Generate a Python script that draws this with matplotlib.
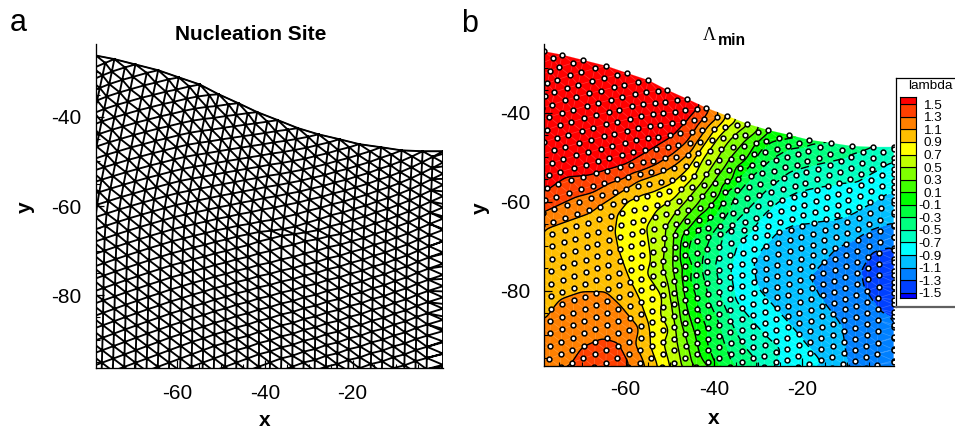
import numpy as np
import matplotlib
matplotlib.use("Agg")
import matplotlib.pyplot as plt
import matplotlib.tri as mtri
from matplotlib.path import Path
from matplotlib.ticker import FixedLocator
from matplotlib.colors import ListedColormap, BoundaryNorm

plt.rcParams['font.family'] = ['Liberation Sans', 'DejaVu Sans']
plt.rcParams['contour.negative_linestyle'] = (0, (6, 6))
plt.rcParams['axes.unicode_minus'] = False

# Upper fault edge
top_x = [-78.6, -74.4, -69.6, -64.4, -59.7, -54.9, -50.6, -46.1, -41.8, -37.1, -32.5, -27.8, -23.0, -18.5, -13.5, -8.8, -4.0, 0.65]
top_y = [-26.2, -27.0, -28.2, -29.5, -31.1, -32.7, -34.9, -36.9, -38.9, -40.7, -42.5, -43.9, -45.0, -46.1, -46.8, -47.5, -47.7, -47.7]

# Lambda readings along each iso-line: level -> x, y
iso = {
 1.5: ([-78.7,-67.4,-59.7,-56.8,-49.3,-45.5,-42.5], [-58.0,-54.0,-51.7,-50.0,-45.5,-41.6,-38.3]),
 1.3: ([-78.7,-71.0,-63.6,-56.8,-52.9,-49.5,-46.1,-42.5,-41.4,-72.6,-69.7,-65.1,-61.3,-58.6],
       [-62.5,-58.9,-55.8,-53.3,-51.7,-49.5,-46.6,-41.6,-39.8,-96.9,-92.6,-90.6,-91.7,-96.9]),
 1.1: ([-78.7,-67.4,-61.3,-56.8,-51.6,-48.2,-44.8,-41.4,-38.7,-78.7,-74.9,-69.7,-64.2,-60.6,-56.8,-55.6],
       [-65.9,-61.9,-58.0,-55.1,-53.3,-51.3,-48.4,-43.2,-41.0,-87.2,-82.1,-80.3,-80.3,-83.7,-88.1,-96.9]),
 0.9: ([-61.9,-59.7,-56.8,-53.8,-49.3,-46.1,-42.5,-39.3,-37.5,-62.4,-61.7,-59.0,-56.8,-55.2,-54.5,-52.7],
       [-62.5,-59.6,-58.5,-57.8,-55.8,-52.9,-47.7,-43.2,-41.2,-66.3,-70.2,-77.6,-82.1,-86.6,-92.2,-96.9]),
 0.7: ([-50.0,-50.0,-51.6,-54.1,-55.2,-52.9,-49.3,-45.9,-42.1,-39.1,-36.4],
       [-96.9,-88.8,-81.4,-73.1,-65.7,-61.9,-59.6,-55.8,-49.5,-45.5,-42.8]),
 0.5: ([-47.3,-48.4,-49.3,-51.6,-50.7,-48.2,-45.5,-42.7,-39.8,-36.4,-34.1,-32.3],
       [-96.9,-91.1,-84.3,-74.7,-65.7,-61.9,-58.9,-55.6,-51.3,-46.1,-43.9,-42.8]),
 0.3: ([-44.8,-47.7,-49.3,-47.7,-44.3,-41.6,-39.1,-36.4,-33.5,-30.7],
       [-96.9,-86.6,-74.7,-65.2,-61.2,-57.4,-54.0,-50.2,-46.8,-44.6]),
 0.1: ([-41.6,-44.3,-46.6,-47.0,-45.0,-41.6,-38.7,-35.8,-32.6,-30.3,-27.4],
       [-96.9,-89.9,-82.1,-75.3,-65.2,-61.9,-58.9,-55.6,-50.6,-46.8,-44.3]),
 -0.1: ([-39.8,-41.6,-43.9,-45.5,-46.1,-45.5,-42.7,-38.2,-36.9,-34.1,-31.4,-29.6,-27.4,-20.6],
        [-96.9,-92.2,-83.2,-77.6,-72.0,-68.6,-65.2,-60.3,-57.4,-54.4,-51.3,-48.4,-46.6,-45.7]),
 -0.3: ([-35.7,-37.5,-39.1,-41.6,-42.7,-40.5,-38.2,-35.3,-31.4,-27.4,-22.8,-18.3,-13.8],
        [-96.9,-92.2,-86.6,-79.8,-73.1,-67.5,-64.6,-58.5,-54.0,-50.6,-47.9,-47.3,-46.8]),
 -0.5: ([-29.6,-33.0,-34.8,-38.7,-39.8,-38.0,-35.3,-31.9,-27.4,-22.8,-17.2,-10.4,-3.6],
        [-96.6,-92.7,-90.0,-81.0,-74.2,-67.5,-64.6,-61.4,-56.9,-53.3,-51.7,-50.2,-47.9]),
 -0.7: ([-22.8,-25.1,-28.0,-31.2,-35.3,-36.4,-34.8,-31.9,-28.5,-25.1,-21.3,-17.6,-11.1,-7.5,-3.6,0.9],
        [-96.7,-92.9,-90.4,-87.0,-82.1,-75.3,-69.7,-67.0,-62.5,-59.6,-57.8,-56.9,-55.8,-55.6,-53.3,-50.6]),
 -0.9: ([-15.4,-20.6,-24.4,-30.3,-31.2,-29.2,-25.8,-22.2,-17.8,-12.2,-8.8,-5.8,-1.3,0.9],
        [-96.5,-90.4,-85.9,-79.2,-73.8,-70.4,-66.8,-65.2,-64.8,-64.1,-63.0,-61.2,-58.5,-57.4]),
 -1.1: ([-10.1,-11.5,-16.0,-21.0,-22.8,-21.3,-15.4,-12.2,-7.0,-4.3,0.9],
        [-96.9,-87.2,-81.4,-78.3,-76.5,-74.7,-73.8,-70.4,-67.9,-66.3,-64.6]),
 -1.3: ([0.9,-2.5,-5.9,-6.6,-4.3,0.9], [-86.1,-84.3,-79.2,-75.3,-71.3,-69.9]),
}
# Readings between iso-lines and at the rim of the domain
extra_x = [-75,-65,-55,-76,-65,-80,-48,-60,-70,-35,-28,-20,-10,1,1,-1,1,-3,1,-5,-65,-68,-70,-75,-79.5,-65,-80,-57,-25,-80,-80]
extra_y = [-40,-40,-40,-50,-45,-25,-33,-25,-25,-36,-38,-42,-44,-44,-48,-78,-78,-75,-98,-98,-98,-98,-72,-72,-75,-72,-98,-98,-98,-70,-55]
extra_v = [1.75,1.75,1.7,1.7,1.75,1.85,1.65,1.8,1.8,0.6,0.1,-0.15,-0.4,-0.6,-0.58,-1.47,-1.47,-1.42,-1.15,-1.15,1.42,1.42,1.0,1.0,1.0,0.98,1.22,1.18,-0.8,1.05,1.6]

# Contour levels and band colours of the legend
levels = [-1.5,-1.3,-1.1,-0.9,-0.7,-0.5,-0.3,-0.1,0.1,0.3,0.5,0.7,0.9,1.1,1.3,1.5]
band_colors = ['#0000ff','#0040ff','#0080ff','#00bfff','#00ffff','#00ffbf','#00ff80','#00ff40','#00ff00',
               '#40ff00','#80ff00','#bfff00','#ffff00','#ffbf00','#ff8000','#ff4000','#ff0000']
level_labels = ['1.5','1.3','1.1','0.9','0.7','0.5','0.3','0.1','-0.1','-0.3','-0.5','-0.7','-0.9','-1.1','-1.3','-1.5']

xticks = [-60,-40,-20]
yticks = [-40,-60,-80]
xminor = [-75,-70,-65,-55,-50,-45,-35,-30,-25,-15,-10,-5]
yminor = [-30,-35,-45,-50,-55,-65,-70,-75,-85,-90,-95]

W, H = 955, 428
fig = plt.figure(figsize=(W/100, H/100), dpi=100)

def box(l, t, r, b):
    return [l/W, 1-b/H, (r-l)/W, (b-t)/H]

def put(x, y, s, **kw):
    fig.text(x/W, 1-y/H, s, **kw)

ax_a = fig.add_axes(box(96, 44, 443, 368))
ax_b = fig.add_axes(box(543.5, 44, 893.7, 366))
XLIM = (-78.6, 0.65)
ax_a.set_xlim(*XLIM); ax_a.set_ylim(-96.4, -23.6)
ax_b.set_xlim(*XLIM); ax_b.set_ylim(-96.9, -24.6)

# Mesh nodes: lattice columns hung from the upper edge nodes, relaxing to a regular lattice at depth
tx, ty = np.array(top_x), np.array(top_y)
nx, ny = [], []
for k in range(-10, 33):
    j = (k + 4) // 2
    if k % 2 == 0:
        r_top = 24 - j
    else:
        r_top = 24 - j - 1
    if 0 <= j < len(tx):
        if k % 2 == 0:
            tgt_x, tgt_y = tx[j], ty[j]
        elif j + 1 < len(tx):
            tgt_x, tgt_y = 0.5*(tx[j]+tx[j+1]), 0.5*(ty[j]+ty[j+1]) - 1.25
        else:
            continue
    else:
        tgt_x = tgt_y = None
    q = np.arange(0, 40)
    r = r_top - q
    x0 = -77.1 + 2.56*k
    yl = -89.6 + 0.94*k + 2.81*r
    S = np.interp(x0, [-78, -40, -20, 0], [0.19, 0.17, 0.05, 0.02])
    xl = x0 + 0.028*(yl+89.6) + S*3.0*np.log1p(np.exp((yl+62)/3.0))
    if tgt_x is None:
        xc, yc = xl, yl
    else:
        w = np.clip(1 - q/21.0, 0, 1)
        xc = xl + (tgt_x - xl[0])*w
        yc = yl + (tgt_y - yl[0])*w
    nx.append(xc); ny.append(yc)
xn, yn = np.concatenate(nx), np.concatenate(ny)
# small slip of the rows around the nucleation site
gx = np.exp(-((xn+35)/8.0)**2)
gy = (yn+66)/3.5
yn = yn - 0.9*gx*np.tanh(2*gy)*np.exp(-gy**2)
xn = np.where(xn > XLIM[1]-1.2, XLIM[1], xn)
keep = (xn > -84) & (yn > -100) & (yn <= np.interp(xn, tx, ty) + 0.01)
mx, my = xn[keep], yn[keep]
outline = Path(np.column_stack([np.r_[-86, tx[0]-5, tx, 6, 6], np.r_[-102, ty[0], ty, ty[-1], -102]]))
clip_outline = Path(np.column_stack([np.r_[XLIM[0], tx, XLIM[1], XLIM[0]], np.r_[-98, ty, -98, -98]]))
mesh = mtri.Triangulation(mx, my)
cx = mx[mesh.triangles].mean(axis=1); cy = my[mesh.triangles].mean(axis=1)
mesh.set_mask(~outline.contains_points(np.column_stack([cx, cy])))

# Panel a
ax_a.triplot(mesh, color='k', lw=1.35, zorder=1)
ax_a.plot(tx, ty, color='k', lw=0.8, zorder=1)

# Panel b: lambda field from the readings, lightly smoothed on a fine grid
fx = np.concatenate([iso[k][0] for k in iso] + [extra_x])
fy = np.concatenate([iso[k][1] for k in iso] + [extra_y])
fv = np.concatenate([np.full(len(iso[k][0]), k) for k in iso] + [extra_v])
ftri = mtri.Triangulation(fx, fy)
gx_ = np.linspace(-80, 1, 325)
gy_ = np.linspace(-98, -25, 293)
GX, GY = np.meshgrid(gx_, gy_)
gz = mtri.LinearTriInterpolator(ftri, fv)(GX, GY)
mask = np.ma.getmaskarray(gz)
Z = np.ma.filled(gz, np.nan)
for c in range(Z.shape[1]):
    ok = np.where(~mask[:, c])[0]
    if len(ok):
        Z[ok[-1]:, c] = Z[ok[-1], c]
        Z[:ok[0], c] = Z[ok[0], c]
for rw in range(Z.shape[0]):
    bad = np.isnan(Z[rw])
    if bad.any() and (~bad).any():
        Z[rw, bad] = np.interp(gx_[bad], gx_[~bad], Z[rw, ~bad])
ker = np.exp(-0.5*(np.arange(-9, 10)/3.0)**2); ker /= ker.sum()
Zp = np.pad(Z, 9, mode='edge')
Zp = np.apply_along_axis(lambda v: np.convolve(v, ker, mode='same'), 0, Zp)
Zp = np.apply_along_axis(lambda v: np.convolve(v, ker, mode='same'), 1, Zp)
Z = Zp[9:-9, 9:-9]

cmap = ListedColormap(band_colors)
all_levels = [-9] + levels + [9]
norm = BoundaryNorm(all_levels, cmap.N)
cf = ax_b.contourf(GX, GY, Z, levels=all_levels, cmap=cmap, norm=norm, zorder=1)
cf.set_clip_path(clip_outline, ax_b.transData)
cl = ax_b.contour(GX, GY, Z, levels=levels, colors='k', linewidths=1.0, zorder=1.2)
cl.set_clip_path(clip_outline, ax_b.transData)
tl = ax_b.triplot(mesh, color='w', lw=0.5, alpha=0.22, zorder=1.1)
for a in tl:
    a.set_clip_path(clip_outline, ax_b.transData)
ax_b.scatter(mx, my, s=12, facecolor='w', edgecolor='k', linewidth=1.1, zorder=3)

for ax, pad_y, pad_x in ((ax_a, 10.8, 11.8), (ax_b, 9.7, 10.3)):
    ax.set_axisbelow(False)
    for s in ('top', 'right'):
        ax.spines[s].set_visible(False)
    for s in ('left', 'bottom'):
        ax.spines[s].set_linewidth(0.95)
        ax.spines[s].set_zorder(4)
    ax.set_xticks(xticks); ax.set_yticks(yticks)
    ax.xaxis.set_minor_locator(FixedLocator(xminor))
    ax.yaxis.set_minor_locator(FixedLocator(yminor))
    ax.tick_params(which='major', direction='in', length=5.8, width=0.9, labelsize=15, top=False, right=False)
    ax.tick_params(which='minor', direction='in', length=2.9, width=0.8, top=False, right=False)
    ax.tick_params(axis='y', which='major', pad=pad_y)
    ax.tick_params(axis='x', which='major', pad=pad_x)

put(10, 31, 'a', fontsize=22, ha='left', va='baseline')
put(461, 32, 'b', fontsize=22, ha='left', va='baseline')
put(250.5, 35, 'Nucleation Site', fontsize=15, fontweight='bold', ha='center', va='center')
put(703, 40, 'Λ', fontsize=13, family='Liberation Serif', ha='left', va='baseline')
put(718, 45, 'min', fontsize=11.3, fontweight='bold', ha='left', va='baseline')
put(265, 420, 'x', fontsize=15, fontweight='bold', ha='center', va='center')
put(714, 419, 'x', fontsize=15, fontweight='bold', ha='center', va='center')
put(25, 207, 'y', fontsize=15, fontweight='bold', rotation=90, ha='center', va='center')
put(480, 208, 'y', fontsize=15, fontweight='bold', rotation=90, ha='center', va='center')

# Legend box
lb = fig.add_axes(box(896, 78, 958, 307), zorder=5)
lb.set_xticks([]); lb.set_yticks([])
for s in lb.spines.values():
    s.set_linewidth(0.9)
lb.spines['bottom'].set_color('#606060')
lb.spines['bottom'].set_linewidth(1.6)
put(930, 86, 'lambda', fontsize=9.7, ha='center', va='center', zorder=7)

ls = fig.add_axes(box(900, 97.3, 916, 298), zorder=6)
edges = [-1.584] + levels + [1.611]
ls.set_ylim(edges[0], edges[-1]); ls.set_xlim(0, 1)
ls.bar([0.5]*len(band_colors), np.diff(edges), bottom=edges[:-1], width=1, color=band_colors,
       edgecolor='k', linewidth=0.8)
ls.set_xticks([]); ls.set_yticks([])
ls.patch.set_visible(False)
for s in ls.spines.values():
    s.set_linewidth(0.8)
for lab in level_labels:
    ls.annotate(lab, (2.625, float(lab)), xytext=(0, -1.1), textcoords='offset points',
                fontsize=9.7, ha='right', va='center', annotation_clip=False)

fig.savefig('out.png', dpi=100)
